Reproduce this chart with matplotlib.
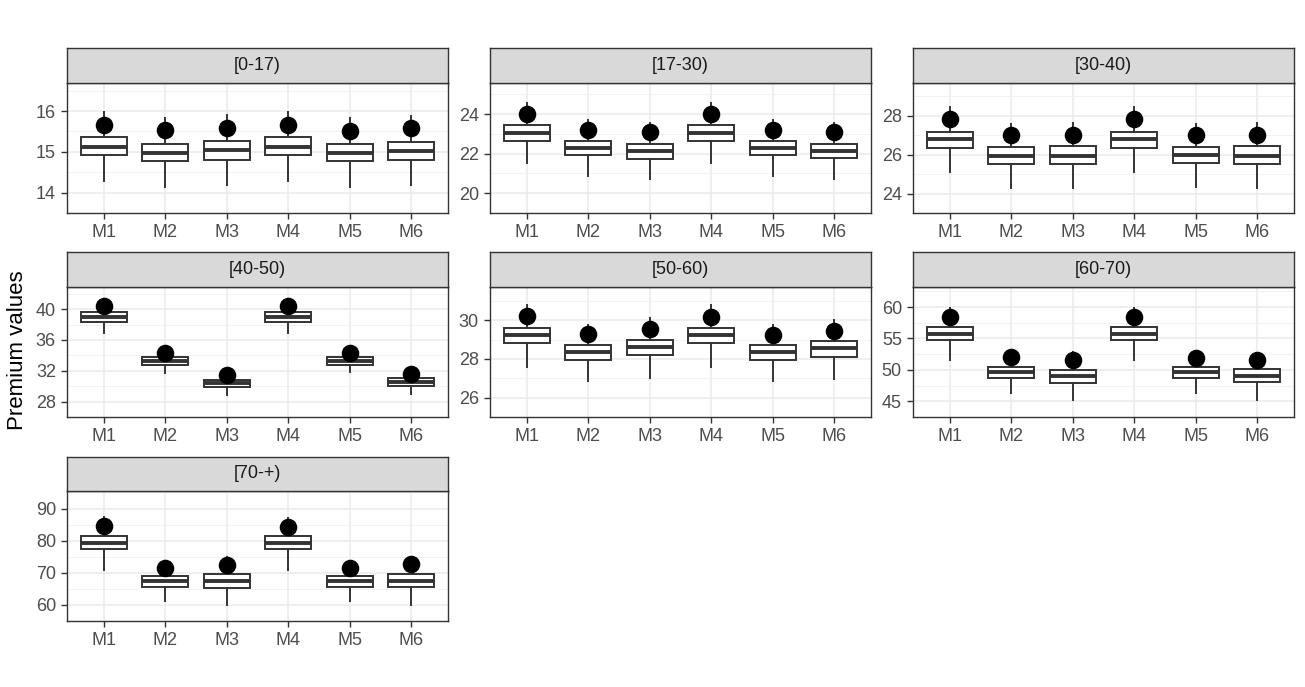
import matplotlib
matplotlib.use("Agg")
import matplotlib.pyplot as plt
import numpy as np

plt.rcParams['font.family'] = ['Liberation Sans', 'DejaVu Sans']

# facet labels and model names
panels = ["[0-17)", "[17-30)", "[30-40)", "[40-50)", "[50-60)", "[60-70)", "[70-+)"]
models = ["M1", "M2", "M3", "M4", "M5", "M6"]

# box stats per panel (M1..M6)
whis_lo = [
    [14.28, 14.15, 14.19, 14.29, 14.15, 14.18],
    [21.52, 20.86, 20.70, 21.52, 20.86, 20.72],
    [25.10, 24.30, 24.30, 25.10, 24.35, 24.30],
    [36.90, 31.75, 28.80, 36.90, 31.80, 29.00],
    [27.60, 26.86, 27.01, 27.60, 26.86, 26.98],
    [51.55, 46.30, 45.20, 51.55, 46.30, 45.20],
    [70.80, 61.20, 60.00, 70.90, 61.20, 60.10],
]
q1 = [
    [14.92, 14.77, 14.81, 14.92, 14.77, 14.81],
    [22.66, 21.91, 21.74, 22.66, 21.91, 21.76],
    [26.34, 25.53, 25.53, 26.34, 25.55, 25.53],
    [38.40, 32.80, 29.90, 38.40, 32.80, 30.05],
    [28.80, 27.97, 28.18, 28.80, 27.97, 28.12],
    [54.70, 48.75, 47.95, 54.70, 48.75, 48.10],
    [77.30, 65.60, 65.40, 77.30, 65.60, 65.50],
]
medians = [
    [15.12, 14.98, 15.05, 15.13, 14.98, 15.03],
    [23.05, 22.27, 22.15, 23.05, 22.27, 22.15],
    [26.79, 25.95, 25.93, 26.79, 25.97, 25.94],
    [38.96, 33.30, 30.40, 38.96, 33.30, 30.50],
    [29.22, 28.37, 28.61, 29.22, 28.37, 28.55],
    [55.75, 49.60, 48.95, 55.75, 49.60, 49.10],
    [79.30, 67.30, 67.40, 79.30, 67.30, 67.40],
]
q3 = [
    [15.37, 15.20, 15.26, 15.37, 15.20, 15.25],
    [23.44, 22.65, 22.50, 23.44, 22.65, 22.50],
    [27.17, 26.40, 26.42, 27.17, 26.40, 26.42],
    [39.60, 33.80, 30.85, 39.60, 33.80, 31.00],
    [29.61, 28.74, 28.98, 29.61, 28.74, 28.93],
    [56.80, 50.50, 50.00, 56.80, 50.50, 50.20],
    [81.40, 69.10, 69.50, 81.30, 69.10, 69.50],
]
whis_hi = [
    [15.97, 15.82, 15.90, 15.97, 15.82, 15.88],
    [24.57, 23.72, 23.57, 24.57, 23.72, 23.57],
    [28.45, 27.55, 27.60, 28.45, 27.55, 27.60],
    [40.80, 34.60, 31.60, 40.80, 34.60, 31.70],
    [30.81, 29.78, 30.10, 30.78, 29.78, 30.03],
    [59.80, 52.80, 52.90, 59.80, 52.80, 52.60],
    [87.30, 73.80, 74.90, 87.00, 73.80, 74.90],
]
dots = [
    [15.67, 15.53, 15.59, 15.67, 15.50, 15.58],
    [23.99, 23.19, 23.07, 23.99, 23.18, 23.07],
    [27.84, 27.00, 27.02, 27.84, 27.00, 27.03],
    [40.40, 34.30, 31.44, 40.40, 34.30, 31.60],
    [30.21, 29.27, 29.55, 30.18, 29.26, 29.47],
    [58.40, 52.00, 51.60, 58.40, 51.85, 51.65],
    [84.60, 71.60, 72.50, 84.40, 71.50, 72.60],
]

# axis ranges / ticks per panel
ylims = [(13.67, 16.69), (19.68, 25.57), (23.38, 29.68), (27.28, 42.88),
         (25.94, 31.72), (42.75, 63.2), (56.7, 95.46)]
yticks = [[14, 15, 16], [20, 22, 24], [24, 26, 28], [28, 32, 36, 40],
          [26, 28, 30], [45, 50, 55, 60], [60, 70, 80, 90]]

W, H = 1305, 687
fig = plt.figure(figsize=(W / 100, H / 100), dpi=100)

col_x = [67, 490, 913]
pan_w = 381
strip_top = [48, 252, 457]
strip_bot = [83, 287, 491]
plot_bot = [213, 417, 621]

dark = "#333333"
grid = "#EBEBEB"

for i, name in enumerate(panels):
    r, c = divmod(i, 3)
    x0 = col_x[c]
    ax = fig.add_axes([x0 / W, 1 - plot_bot[r] / H, pan_w / W,
                       (plot_bot[r] - strip_bot[r]) / H])
    sx = fig.add_axes([x0 / W, 1 - strip_bot[r] / H, pan_w / W,
                       (strip_bot[r] - strip_top[r]) / H])

    pos = np.arange(1, len(models) + 1)
    stats = []
    for j in range(len(models)):
        stats.append(dict(whislo=whis_lo[i][j], q1=q1[i][j], med=medians[i][j],
                          q3=q3[i][j], whishi=whis_hi[i][j], fliers=[]))
    ax.bxp(stats, positions=pos, widths=0.75, patch_artist=True,
           showfliers=False, showcaps=False,
           boxprops=dict(facecolor="white", edgecolor=dark, linewidth=1.4),
           medianprops=dict(color=dark, linewidth=2.8, solid_capstyle="butt"),
           whiskerprops=dict(color=dark, linewidth=1.4), zorder=3)
    ax.scatter(pos, dots[i], s=160, color="black", zorder=4, linewidths=0)

    ax.set_xlim(0.4, 6.6)
    ax.set_ylim(*ylims[i])
    ax.set_xticks(pos)
    ax.set_xticklabels(models)
    ax.set_yticks(yticks[i])
    yt = yticks[i]
    step = yt[1] - yt[0]
    ax.set_yticks(np.arange(yt[0] - step / 2, yt[-1] + step, step), minor=True)
    ax.grid(True, which="major", color=grid, linewidth=1.1, zorder=0)
    ax.grid(True, which="minor", axis="y", color="#F2F2F2", linewidth=0.7, zorder=0)
    ax.set_axisbelow(True)
    ax.tick_params(axis="both", which="major", length=4, width=1.0, color=dark,
                   labelsize=13, labelcolor="#4D4D4D", pad=4)
    ax.tick_params(axis="y", which="minor", length=0)
    for s in ax.spines.values():
        s.set_color(dark)
        s.set_linewidth(1.0)

    sx.set_facecolor("#D9D9D9")
    sx.set_xticks([])
    sx.set_yticks([])
    for s in sx.spines.values():
        s.set_color(dark)
        s.set_linewidth(1.0)
    sx.text(0.5, 0.5, name, ha="center", va="center", fontsize=13,
            color="#1A1A1A", transform=sx.transAxes)

fig.text(18 / W, 1 - 350 / H, "Premium values", rotation=90, ha="center",
         va="center", fontsize=16, color="black")

fig.savefig("out.png", dpi=100, facecolor="white")
